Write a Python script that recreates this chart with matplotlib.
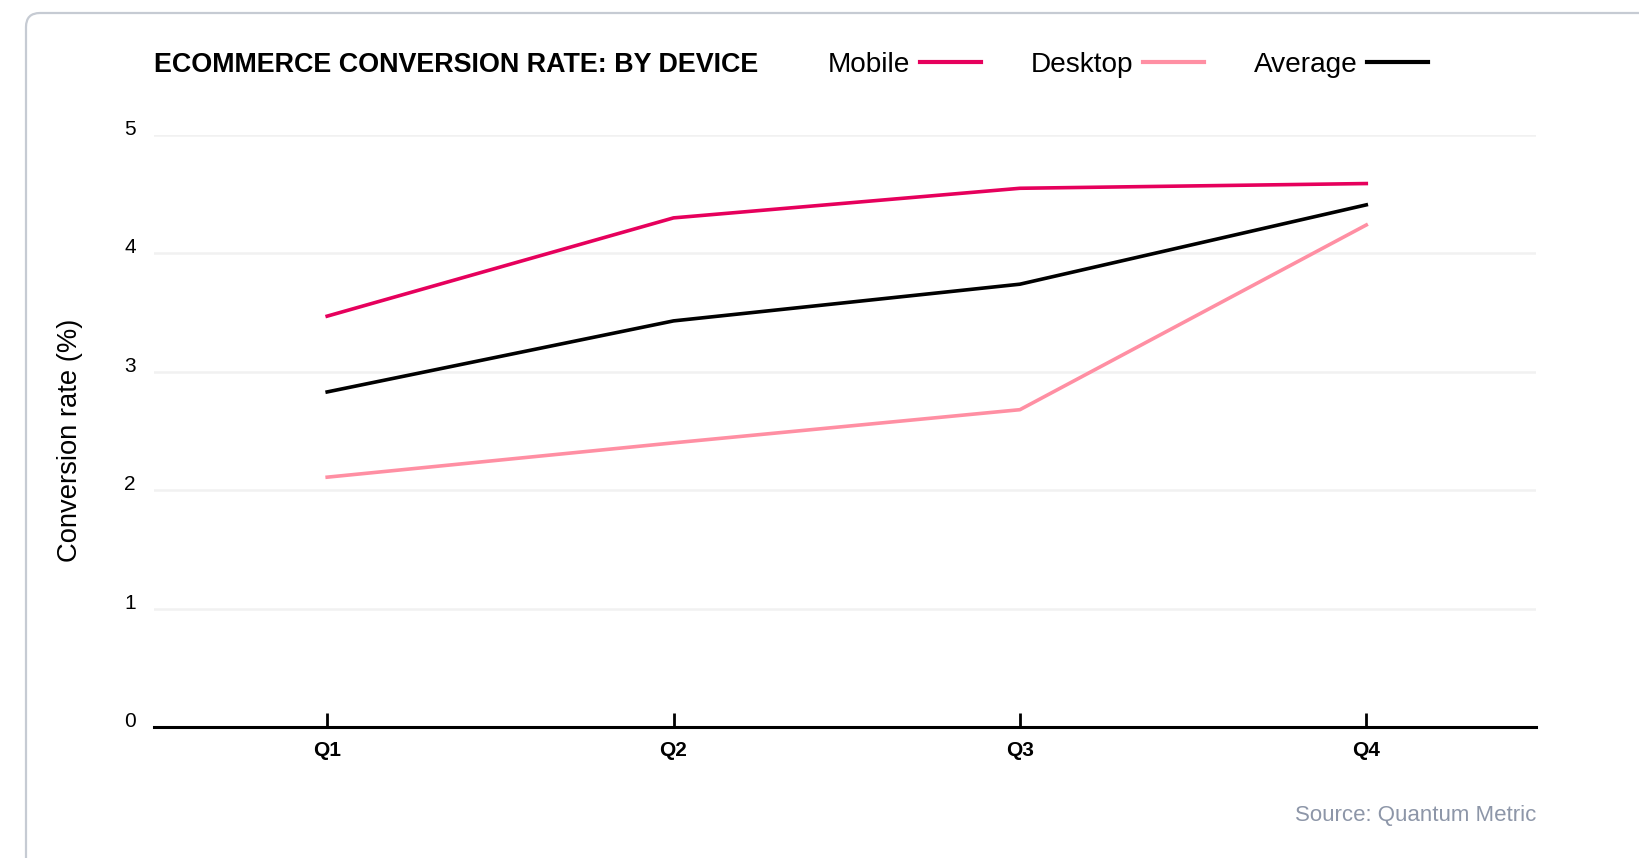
import matplotlib
matplotlib.use("Agg")
import matplotlib.pyplot as plt
from matplotlib.lines import Line2D
from matplotlib.patches import FancyBboxPatch
from matplotlib.transforms import IdentityTransform

quarters = ["Q1", "Q2", "Q3", "Q4"]
mobile = [3.47, 4.30, 4.55, 4.59]
desktop = [2.11, 2.40, 2.68, 4.24]
average = [2.83, 3.43, 3.74, 4.41]
y_ticks = [0, 1, 2, 3, 4, 5]

MOBILE_COLOR = "#e6005c"
DESKTOP_COLOR = "#ff8fa3"
AVERAGE_COLOR = "#000000"

plt.rcParams["font.family"] = ["Liberation Sans", "DejaVu Sans"]

W, H = 1640, 858
fig = plt.figure(figsize=(W / 100, H / 100), dpi=100)
fig.patch.set_facecolor("white")

# card border (pixel coordinates)
card = FancyBboxPatch(
    (26, -60), 1700, 845 + 60,
    boxstyle="round,pad=0,rounding_size=14",
    transform=IdentityTransform(),
    facecolor="none", edgecolor="#c6cbd3", linewidth=1.6,
)
fig.patches.append(card)

ax = fig.add_axes([154 / W, (H - 727) / H, (1536 - 154) / W, (727 - 135) / H])
x = range(len(quarters))
ax.plot(x, mobile, color=MOBILE_COLOR, lw=2.6, zorder=3)
ax.plot(x, desktop, color=DESKTOP_COLOR, lw=2.6, zorder=3)
ax.plot(x, average, color=AVERAGE_COLOR, lw=2.6, zorder=3)

ax.set_xlim(-0.5, 3.49)
ax.set_ylim(0, 5)
ax.set_xticks(list(x), quarters, fontsize=15, fontweight="bold")
ax.set_yticks(y_ticks, [str(t) for t in y_ticks], fontsize=15, va="baseline")
ax.tick_params(axis="x", direction="in", length=10, width=2, color="black", pad=10)
ax.tick_params(axis="y", length=0, pad=13)

for t in y_ticks[1:]:
    ax.axhline(t, color="#f1f1f1", lw=1.8, zorder=1)

for side in ["top", "right", "left"]:
    ax.spines[side].set_visible(False)
ax.spines["bottom"].set_linewidth(2.2)
ax.spines["bottom"].set_color("black")
ax.spines["bottom"].set_zorder(4)

ax.set_ylabel("Conversion rate (%)", fontsize=19.7)
ax.yaxis.label.set_verticalalignment("center")
ax.yaxis.set_label_coords((70 - 154) / (1536 - 154), (727 - 440) / (727 - 135))

fig.text(154 / W, 1 - 65 / H, "ECOMMERCE CONVERSION RATE: BY DEVICE",
         fontsize=19.4, fontweight="bold", va="center", ha="left")

handles = [
    Line2D([], [], color=MOBILE_COLOR, lw=3),
    Line2D([], [], color=DESKTOP_COLOR, lw=3),
    Line2D([], [], color=AVERAGE_COLOR, lw=3),
]
fig.legend(handles, ["Mobile", "Desktop", "Average"], ncol=3, markerfirst=False,
           frameon=False, fontsize=20.2, loc="center left",
           bbox_to_anchor=(828 / W, 1 - 65 / H), borderpad=0, borderaxespad=0,
           handlelength=2.15, handletextpad=0.36, columnspacing=1.78)

fig.text(1536 / W, 1 - 816 / H, "Source: Quantum Metric", fontsize=16,
         color="#8d96a8", ha="right", va="center")

fig.savefig("out.png", dpi=100)
plt.close(fig)
